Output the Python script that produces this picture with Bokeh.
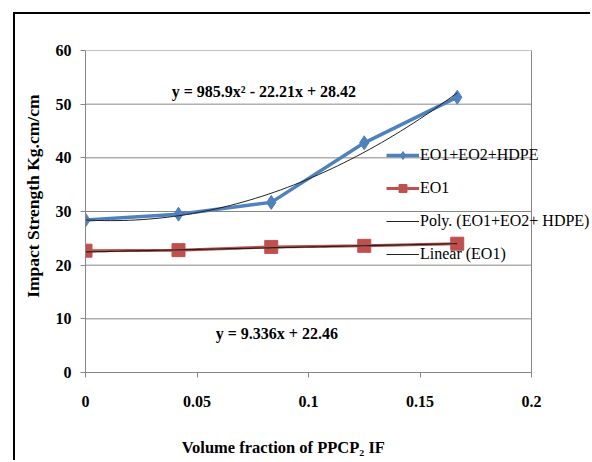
import numpy as np
from bokeh.plotting import figure
from bokeh.models import Legend, LegendItem, Label, FixedTicker, Range1d, Span
from bokeh.embed import file_html
from bokeh.resources import INLINE

# ---- data ----
volume_fraction = [0.0, 0.0417, 0.0833, 0.125, 0.1667]
eo1_eo2_hdpe = [28.4, 29.5, 31.7, 42.8, 51.3]
eo1 = [22.7, 22.8, 23.4, 23.6, 24.0]
poly_coeffs = [985.9, -22.21, 28.42]      # Excel polynomial trendline
linear_coeffs = [9.336, 22.46]            # Excel linear trendline
x_ticks = [0, 0.05, 0.1, 0.15, 0.2]
x_tick_labels = ["0", "0.05", "0.1", "0.15", "0.2"]
y_ticks = [0, 10, 20, 30, 40, 50, 60]
series_names = ["EO1+EO2+HDPE", "EO1", "Poly. (EO1+EO2+ HDPE)", "Linear (EO1)"]
poly_label = "y = 985.9x\u00b2 - 22.21x + 28.42"
linear_label = "y = 9.336x + 22.46"
x_title = "Volume fraction  of  PPCP\u2082 IF"
y_title = "Impact Strength Kg.cm/cm"

BLUE = "#4F81BD"
RED = "#C0504D"
GRAY = "#868686"
FONT = "Liberation Serif, Times New Roman, serif"
NB = "\u00a0"

p = figure(width=577, height=448,
           x_range=Range1d(0, 0.22735), y_range=Range1d(0, 60),
           output_backend="svg", toolbar_location=None,
           min_border_left=70, min_border_right=0,
           min_border_top=36, min_border_bottom=90)
p.margin = (12, 0, 0, 13)
p.styles = {"border-left": "2px solid #000", "border-top": "2px solid #000"}
p.background_fill_color = "white"
p.border_fill_color = "white"
p.outline_line_color = None

# axes
for ax in (p.xaxis[0], p.yaxis[0]):
    ax.axis_line_color = GRAY
    ax.major_tick_line_color = GRAY
    ax.major_tick_in = 0
    ax.major_tick_out = 5
    ax.minor_tick_line_color = None
    ax.major_label_text_font = FONT
    ax.major_label_text_font_style = "bold"
    ax.major_label_text_font_size = "16px"
    ax.major_label_text_color = "black"
    ax.axis_label_text_font = FONT
    ax.axis_label_text_font_style = "bold"
    ax.axis_label_text_color = "black"
p.xaxis.ticker = FixedTicker(ticks=x_ticks)
p.xaxis.bounds = (x_ticks[0], x_ticks[-1])
p.xaxis.major_label_overrides = {t: s for t, s in zip(x_ticks, x_tick_labels)}
p.xaxis.major_label_standoff = 18
p.xaxis.axis_label = x_title + NB * 25
p.xaxis.axis_label_text_font_size = "16.5px"
p.xaxis.axis_label_standoff = 28
p.yaxis.ticker = FixedTicker(ticks=y_ticks)
p.yaxis.major_label_standoff = 9
p.yaxis.axis_label = NB * 7 + y_title
p.yaxis.axis_label_text_font_size = "17.5px"
p.yaxis.axis_label_standoff = 10

p.xgrid.grid_line_color = None
p.ygrid.grid_line_color = None

# plot-area grid lines and right border (limited to the 0..0.2 plot area)
p.segment(x0=[x_ticks[0]] * len(y_ticks), x1=[x_ticks[-1]] * len(y_ticks),
          y0=y_ticks, y1=y_ticks, line_color=GRAY, line_width=1)
p.add_layout(Span(location=x_ticks[-1], dimension="height",
                  line_color=GRAY, line_width=1))

# series
b_line = p.line(volume_fraction, eo1_eo2_hdpe, line_color=BLUE, line_width=3.5)
b_mark = p.scatter(volume_fraction, eo1_eo2_hdpe, marker="diamond", size=14,
                   fill_color=BLUE, line_color=BLUE)
r_line = p.line(volume_fraction, eo1, line_color=RED, line_width=3)
r_mark = p.scatter(volume_fraction, eo1, marker="square", size=13,
                   fill_color=RED, line_color=RED)

# trendlines
tx = np.linspace(min(volume_fraction), max(volume_fraction), 60)
poly_y = np.polyval(poly_coeffs, tx)
lin_y = np.polyval(linear_coeffs, tx)
poly_r = p.line(tx, poly_y, line_color="#222222", line_width=1)
lin_r = p.line(tx, lin_y, line_color="#222222", line_width=1.2)

legend = Legend(items=[
    LegendItem(label=series_names[0], renderers=[b_line, b_mark]),
    LegendItem(label=series_names[1], renderers=[r_line, r_mark]),
    LegendItem(label=series_names[2], renderers=[poly_r]),
    LegendItem(label=series_names[3], renderers=[lin_r]),
], location=(301, 108))
legend.padding = 0
legend.margin = 0
legend.spacing = 13
legend.glyph_width = 33
legend.glyph_height = 20
legend.label_height = 20
legend.label_standoff = 1
legend.label_text_font = FONT
legend.label_text_font_size = "16px"
legend.label_text_color = "black"
legend.background_fill_alpha = 0
legend.border_line_alpha = 0
p.add_layout(legend, "center")

# trendline equations
p.add_layout(Label(x=0.08, y=52.3, text=poly_label, text_align="center",
                   text_baseline="middle", text_font=FONT,
                   text_font_style="bold", text_font_size="16px",
                   text_color="black"))
p.add_layout(Label(x=0.0858, y=7.2, text=linear_label, text_align="center",
                   text_baseline="middle", text_font=FONT,
                   text_font_style="bold", text_font_size="16px",
                   text_color="black"))

open("out.html", "w").write(file_html(p, INLINE))
